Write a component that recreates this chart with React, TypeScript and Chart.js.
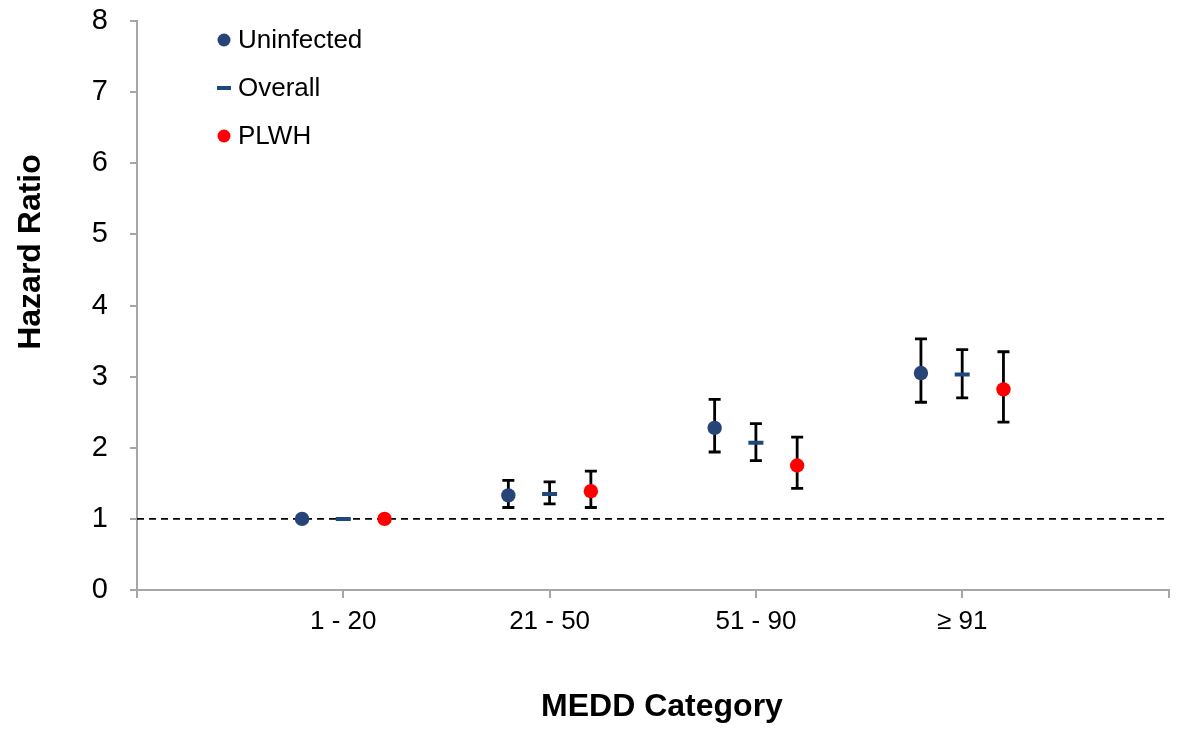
import React, { useEffect, useRef } from "react";
import { Chart, registerables } from "chart.js";

Chart.register(...registerables);

const categories = ["1 - 20", "21 - 50", "51 - 90", "≥ 91"];
const yTicks = [0, 1, 2, 3, 4, 5, 6, 7, 8];

const uninfected = [1.0, 1.33, 2.28, 3.05];
const uninfectedLow = [null, 1.16, 1.94, 2.64];
const uninfectedHigh = [null, 1.54, 2.68, 3.53];

const overall = [1.0, 1.35, 2.07, 3.03];
const overallLow = [null, 1.21, 1.82, 2.7];
const overallHigh = [null, 1.52, 2.34, 3.38];

const plwh = [1.0, 1.39, 1.75, 2.82];
const plwhLow = [null, 1.16, 1.43, 2.36];
const plwhHigh = [null, 1.67, 2.15, 3.35];

const referenceValue = 1;
const seriesOffset = 0.2;

const BLUE = "#264478";
const BLUE_LINE = "#1F497D";
const RED = "#FF0000";
const AXIS = "#A6A6A6";
const FONT = "'Liberation Sans', Arial, sans-serif";

function toPoints(vals: number[], lo: (number | null)[], hi: (number | null)[], off: number) {
  return vals.map((v, i) => ({ x: i + 1 + off, y: v, lo: lo[i], hi: hi[i] }));
}

const errorBarPlugin = {
  id: "errorBars",
  beforeDatasetsDraw(chart: any) {
    const { ctx, chartArea, scales } = chart;
    const xs = scales.x;
    const ys = scales.y;
    ctx.save();
    ctx.strokeStyle = "#000000";
    ctx.lineWidth = 1.8;
    ctx.setLineDash([7, 5]);
    const yRef = ys.getPixelForValue(referenceValue);
    ctx.beginPath();
    ctx.moveTo(chartArea.left, yRef);
    ctx.lineTo(chartArea.right, yRef);
    ctx.stroke();
    ctx.restore();

    ctx.save();
    ctx.strokeStyle = "#000000";
    ctx.lineWidth = 2.8;
    chart.data.datasets.forEach((ds: any) => {
      ds.data.forEach((p: any) => {
        if (p.lo == null || p.hi == null) return;
        const x = xs.getPixelForValue(p.x);
        const y1 = ys.getPixelForValue(p.lo);
        const y2 = ys.getPixelForValue(p.hi);
        const cap = 6;
        ctx.beginPath();
        ctx.moveTo(x, y1);
        ctx.lineTo(x, y2);
        ctx.moveTo(x - cap, y1);
        ctx.lineTo(x + cap, y1);
        ctx.moveTo(x - cap, y2);
        ctx.lineTo(x + cap, y2);
        ctx.stroke();
      });
    });
    ctx.restore();
  },
  afterDraw(chart: any) {
    const { ctx } = chart;
    ctx.save();
    const items = [
      { label: "Uninfected", type: "circle", color: BLUE },
      { label: "Overall", type: "line", color: BLUE_LINE },
      { label: "PLWH", type: "circle", color: RED },
    ];
    ctx.font = `26px ${FONT}`;
    ctx.textBaseline = "middle";
    ctx.textAlign = "left";
    items.forEach((it, i) => {
      const y = 40 + i * 48;
      const mx = 224;
      if (it.type === "circle") {
        ctx.fillStyle = it.color;
        ctx.beginPath();
        ctx.arc(mx, y, 6.5, 0, Math.PI * 2);
        ctx.fill();
      } else {
        ctx.strokeStyle = it.color;
        ctx.lineWidth = 4;
        ctx.beginPath();
        ctx.moveTo(mx - 7, y);
        ctx.lineTo(mx + 7, y);
        ctx.stroke();
      }
      ctx.fillStyle = "#000000";
      ctx.fillText(it.label, 238, y + 1);
    });

    ctx.font = `bold 32px ${FONT}`;
    ctx.fillStyle = "#000000";
    ctx.textAlign = "center";
    ctx.textBaseline = "middle";
    ctx.fillText("MEDD Category", 662, 707);
    ctx.translate(31, 252);
    ctx.rotate(-Math.PI / 2);
    ctx.fillText("Hazard Ratio", 0, 0);
    ctx.restore();
  },
};

export default function App() {
  const canvasRef = useRef<HTMLCanvasElement | null>(null);

  useEffect(() => {
    if (!canvasRef.current) return;
    const chart = new Chart(canvasRef.current, {
      type: "scatter",
      data: {
        datasets: [
          {
            label: "Uninfected",
            data: toPoints(uninfected, uninfectedLow, uninfectedHigh, -seriesOffset),
            backgroundColor: BLUE,
            borderColor: BLUE,
            pointStyle: "circle",
            pointRadius: 7.2,
            borderWidth: 0,
          },
          {
            label: "Overall",
            data: toPoints(overall, overallLow, overallHigh, 0),
            backgroundColor: BLUE_LINE,
            borderColor: BLUE_LINE,
            pointStyle: "line",
            pointRadius: 7.5,
            borderWidth: 4,
          },
          {
            label: "PLWH",
            data: toPoints(plwh, plwhLow, plwhHigh, seriesOffset),
            backgroundColor: RED,
            borderColor: RED,
            pointStyle: "circle",
            pointRadius: 7.2,
            borderWidth: 0,
          },
        ] as any,
      },
      options: {
        animation: false,
        responsive: false,
        layout: { padding: { top: 21, right: 7, left: 0, bottom: 0 } },
        plugins: {
          legend: { display: false },
          tooltip: { enabled: false },
        },
        scales: {
          x: {
            type: "linear",
            min: 0,
            max: categories.length + 1,
            afterFit: (axis: any) => {
              axis.height = 140;
              axis.paddingLeft = 0;
              axis.paddingRight = 0;
            },
            afterBuildTicks: (axis: any) => {
              const t = [];
              for (let i = 0; i <= categories.length + 1; i++) t.push({ value: i });
              axis.ticks = t;
            },
            ticks: {
              autoSkip: false,
              maxRotation: 0,
              padding: 8,
              color: "#000000",
              font: { size: 26, family: FONT },
              callback: (v: any) => {
                const n = Number(v);
                return n >= 1 && n <= categories.length ? categories[n - 1] : "";
              },
            },
            grid: {
              drawOnChartArea: false,
              drawTicks: true,
              tickLength: 8,
              color: AXIS,
              lineWidth: 2,
            },
            border: { color: AXIS, width: 2 },
          },
          y: {
            type: "linear",
            min: yTicks[0],
            max: yTicks[yTicks.length - 1],
            afterFit: (axis: any) => {
              axis.width = 137;
              axis.paddingTop = 0;
              axis.paddingBottom = 0;
            },
            afterBuildTicks: (axis: any) => {
              axis.ticks = yTicks.map((v) => ({ value: v }));
            },
            ticks: {
              padding: 22,
              color: "#000000",
              font: { size: 29, family: FONT },
              callback: (v: any) => String(v),
            },
            grid: {
              drawOnChartArea: false,
              drawTicks: true,
              tickLength: 7,
              color: AXIS,
              lineWidth: 2,
            },
            border: { color: AXIS, width: 2 },
          },
        },
      },
      plugins: [errorBarPlugin],
    });
    return () => chart.destroy();
  }, []);

  return (
    <div style={{ position: "absolute", left: 0, top: 0, width: 1180, height: 730, background: "#ffffff" }}>
      <canvas ref={canvasRef} width={1180} height={730} />
    </div>
  );
}
